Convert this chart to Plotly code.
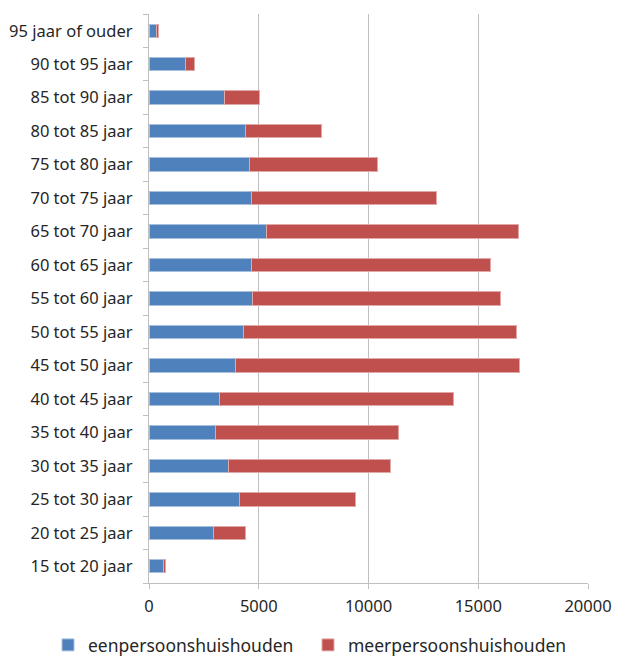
import plotly.graph_objects as go

# Leeftijdsklassen (van jong naar oud, onderaan beginnend)
leeftijd = [
    "15 tot 20 jaar", "20 tot 25 jaar", "25 tot 30 jaar", "30 tot 35 jaar",
    "35 tot 40 jaar", "40 tot 45 jaar", "45 tot 50 jaar", "50 tot 55 jaar",
    "55 tot 60 jaar", "60 tot 65 jaar", "65 tot 70 jaar", "70 tot 75 jaar",
    "75 tot 80 jaar", "80 tot 85 jaar", "85 tot 90 jaar", "90 tot 95 jaar",
    "95 jaar of ouder",
]

eenpersoons = [670, 2930, 4120, 3600, 3040, 3230, 3960, 4310,
               4710, 4690, 5370, 4690, 4570, 4390, 3460, 1640, 360]
meerpersoons = [100, 1470, 5280, 7420, 8330, 10660, 12930, 12420,
                11310, 10880, 11460, 8410, 5830, 3490, 1560, 430, 65]

x_ticks = [0, 5000, 10000, 15000, 20000]

fig = go.Figure()
fig.add_trace(go.Bar(
    y=leeftijd, x=eenpersoons, orientation="h", name="eenpersoonshuishouden",
    marker=dict(color="#4F81BD", line=dict(color="#A7C0DE", width=1)),
    legend="legend",
))
fig.add_trace(go.Bar(
    y=leeftijd, x=meerpersoons, orientation="h", name="meerpersoonshuishouden",
    marker=dict(color="#C0504D", line=dict(color="#E0A8A6", width=1)),
    legend="legend2",
))

font_family = "Noto Sans, Open Sans, sans-serif"
legend_common = dict(
    orientation="h",
    xref="container", yref="paper",
    xanchor="left", yanchor="middle", y=-0.109,
    font=dict(size=17.5, color="#262626"),
    itemwidth=30,
)

fig.update_layout(
    barmode="stack",
    bargap=0.6,
    width=617, height=657,
    margin=dict(l=149, r=29, t=14, b=74, autoexpand=False),
    paper_bgcolor="white",
    plot_bgcolor="white",
    font=dict(family=font_family, size=14, color="#262626"),
    showlegend=True,
    legend=dict(x=48 / 617, **legend_common),
    legend2=dict(x=308 / 617, **legend_common),
    xaxis=dict(
        range=[0, 20000],
        tickvals=x_ticks,
        ticktext=[str(v) for v in x_ticks],
        showgrid=True, gridcolor="#BFBFBF", gridwidth=1.3,
        zeroline=False,
        showline=True, linecolor="#BFBFBF", linewidth=1.3,
        ticks="outside", ticklen=5, tickcolor="#BFBFBF", tickwidth=1.3,
        ticklabelstandoff=3,
        tickfont=dict(size=16.5),
        automargin=False,
        fixedrange=True,
    ),
    yaxis=dict(
        type="category",
        categoryorder="array", categoryarray=leeftijd,
        showgrid=False,
        showline=True, linecolor="#BFBFBF", linewidth=1.3,
        ticks="outside", ticklen=5, tickcolor="#BFBFBF", tickwidth=1.3,
        tickson="boundaries",
        ticklabelstandoff=12,
        tickfont=dict(size=16.5),
        automargin=False,
        fixedrange=True,
    ),
)

fig.write_html("out.html")
